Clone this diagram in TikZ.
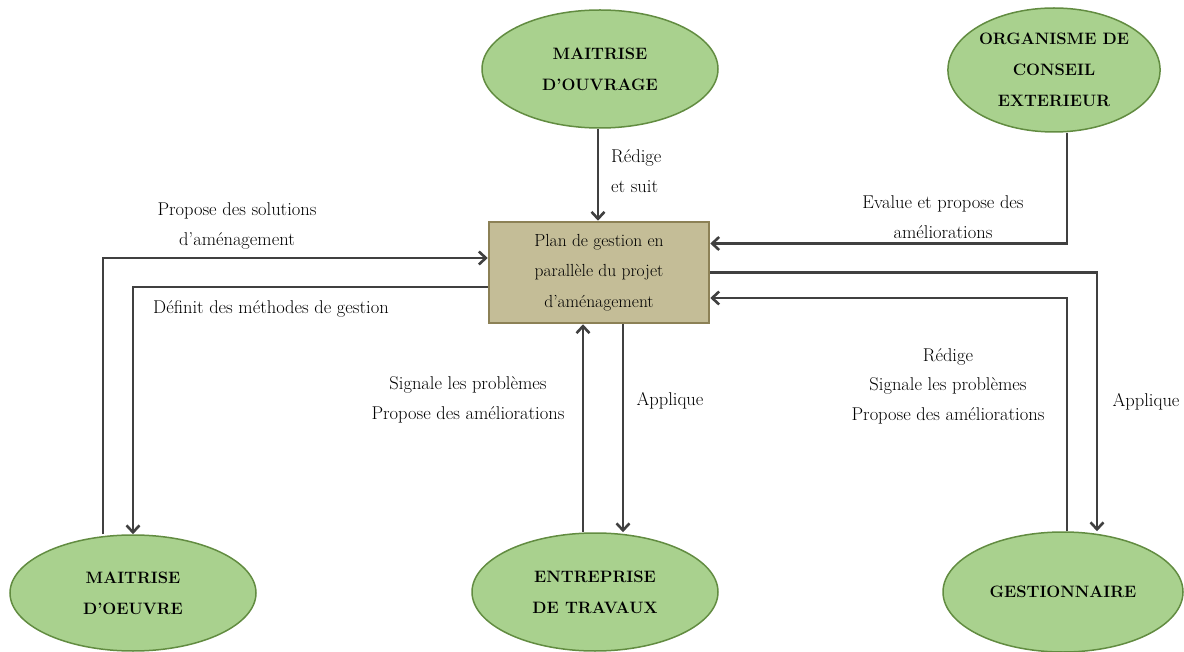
\documentclass[tikz,border=0pt]{standalone}
\usetikzlibrary{arrows.meta,shapes.geometric,calc}
\definecolor{ellfill}{HTML}{A9D18E}
\definecolor{elldraw}{RGB}{98,140,65}
\definecolor{boxfill}{HTML}{C4BD97}
\definecolor{boxdraw}{HTML}{8C8156}
\definecolor{arrcol}{HTML}{404040}
\tikzset{
  actor/.style={ellipse, fill=ellfill, draw=elldraw, line width=1.5pt, align=center, inner sep=0pt,
    font=\fontsize{16.5}{31}\selectfont\bfseries},
  planbox/.style={rectangle, fill=boxfill, draw=boxdraw, line width=2.5pt, align=center, inner sep=0pt,
    font=\fontsize{17.5}{30.5}\selectfont},
  conn/.style={draw=arrcol, line width=2.6pt},
  arr/.style={conn, -{Straight Barb[length=7pt,width=13pt,line width=2.6pt]}},
  lbl/.style={align=center, inner sep=0pt, font=\fontsize{18.5}{29.5}\selectfont}
}
\begin{document}
\begin{tikzpicture}[x=1pt,y=-1pt]
\useasboundingbox (0,0) rectangle (1184,652);
% nodes
\node[actor, minimum width=236, minimum height=118] (mo) at (600,69) {MAITRISE\\D’OUVRAGE};
\node[actor, minimum width=212, minimum height=124] (oc) at (1054,70) {ORGANISME DE\\CONSEIL\\EXTERIEUR};
\node[actor, minimum width=246, minimum height=116] (moe) at (133,593) {MAITRISE\\D’OEUVRE};
\node[actor, minimum width=246, minimum height=118] (et) at (595,592) {ENTREPRISE\\DE TRAVAUX};
\node[actor, minimum width=240, minimum height=120] (ge) at (1063,592) {GESTIONNAIRE};
\node[planbox, minimum width=220, minimum height=101] (box) at (599,272.5)
  {Plan de gestion en\\parallèle du projet\\d’aménagement};
% connectors
\draw[arr] ([xshift=-2pt]mo.south) -- ([xshift=-2pt]mo.south |- box.north);
\draw[arr] ([xshift=13pt]oc.south) |- ([yshift=29pt]box.east);
\draw[arr] ([xshift=-30pt]moe.north) |- ([yshift=14.5pt]box.west);
\draw[arr] ([yshift=-14.5pt]box.west) -| (moe.north);
\draw[arr] ([xshift=-12pt]et.north) -- ([xshift=-12pt]et.north |- box.south);
\draw[arr] ([xshift=24pt]box.south) -- ([xshift=24pt]box.south |- et.north);
\draw[arr] (box.east) -| ([xshift=34pt]ge.north);
\draw[arr] ([xshift=4pt]ge.north) |- ([yshift=-25.5pt]box.east);
% labels
\node[lbl, anchor=west, align=left] (l1) at (611,171) {Rédige\\et suit};
\node[lbl] (l2) at (943,217) {Evalue et propose des\\améliorations};
\node[lbl] (l3) at (237,226) {Propose des solutions\\d’aménagement};
\node[lbl] (l4) at (271,309) {Définit des méthodes de gestion};
\node[lbl] (l5) at (468,400) {Signale les problèmes\\Propose des améliorations};
\node[lbl] (l6) at (670,401) {Applique};
\node[lbl] (l7) at (948,386) {Rédige\\Signale les problèmes\\Propose des améliorations};
\node[lbl] (l8) at (1146,402) {Applique};
\end{tikzpicture}
\end{document}
